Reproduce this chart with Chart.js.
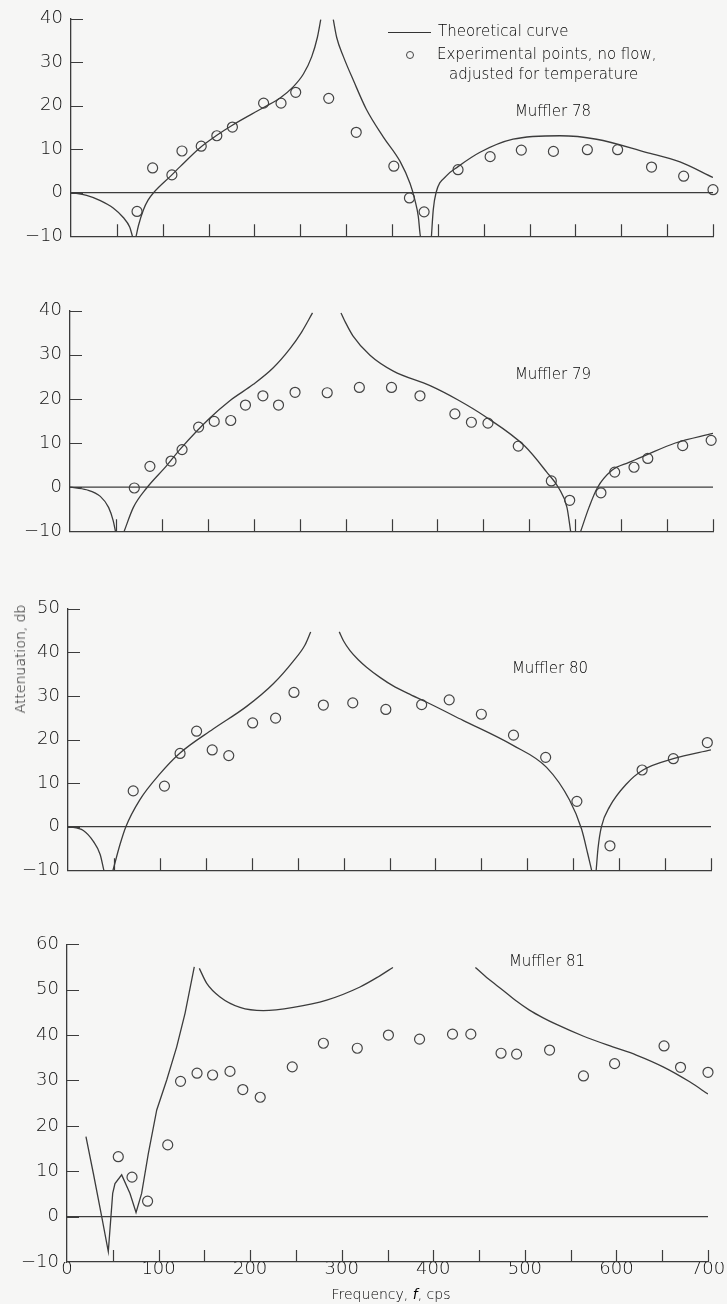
<!DOCTYPE html>
<html>
<head>
<meta charset="utf-8">
<script src="https://cdn.jsdelivr.net/npm/chart.js@4.4.1/dist/chart.umd.min.js"></script>
<style>
  body { margin: 0; background: #f6f6f5; }
  #wrap { position: relative; width: 727px; height: 1304px; overflow: hidden; font-family: 'DejaVu Sans', sans-serif; font-weight: 200; color: #000; }
  canvas { position: absolute; left: 0; }
  .txt { position: absolute; white-space: nowrap; line-height: 1; font-size: 15px; }
  .mid { transform: translateX(-50%); }
</style>
</head>
<body>
<div id="wrap">
  <canvas id="c78"></canvas>
  <canvas id="c79"></canvas>
  <canvas id="c80"></canvas>
  <canvas id="c81"></canvas>

  <div style="position:absolute;left:388px;top:32px;width:43px;border-top:1.3px solid #333"></div>
  <div class="txt" style="left:438px;top:24px">Theoretical curve</div>
  <div style="position:absolute;left:406px;top:51px;width:6px;height:6px;border:1.2px solid #444;border-radius:50%"></div>
  <div class="txt" style="left:437px;top:47px">Experimental points, no flow,</div>
  <div class="txt" style="left:449px;top:67px">adjusted for temperature</div>

  <div class="txt mid" style="left:553px;top:104px">Muffler 78</div>
  <div class="txt mid" style="left:553px;top:367px">Muffler 79</div>
  <div class="txt mid" style="left:550px;top:661px">Muffler 80</div>
  <div class="txt mid" style="left:547px;top:954px">Muffler 81</div>

  <div class="txt" style="left:20px;top:659px;font-size:14px;transform:translate(-50%,-50%) rotate(-90deg)">Attenuation, db</div>
  <div class="txt mid" style="left:391px;top:1287px;font-size:14px">Frequency, <i>f</i>, cps</div>
</div>
<script>
// experimental points (frequency, cps / attenuation, db)
var freq78 = [72, 89, 110, 121, 142, 159, 176, 210, 229, 245, 281, 311, 352, 369, 385, 422, 457, 491, 526, 563, 596, 633, 668, 700]
var att78 = [-4.3, 5.7, 4.1, 9.6, 10.7, 13.1, 15.1, 20.6, 20.6, 23.1, 21.7, 13.9, 6.1, -1.2, -4.4, 5.3, 8.3, 9.8, 9.5, 9.9, 9.9, 5.9, 3.8, 0.7]

var freq79 = [70, 87, 110, 122, 140, 157, 175, 191, 210, 227, 245, 280, 315, 350, 381, 419, 437, 455, 488, 524, 544, 578, 593, 614, 629, 667, 698]
var att79 = [-0.2, 4.7, 5.9, 8.5, 13.6, 14.9, 15.1, 18.6, 20.7, 18.6, 21.5, 21.4, 22.6, 22.6, 20.7, 16.6, 14.7, 14.5, 9.3, 1.4, -3.0, -1.3, 3.4, 4.5, 6.5, 9.4, 10.6]

var freq80 = [71, 105, 122, 140, 157, 175, 201, 226, 246, 278, 310, 346, 385, 415, 450, 485, 520, 554, 590, 625, 659, 696]
var att80 = [8.2, 9.3, 16.8, 21.9, 17.6, 16.3, 23.8, 24.9, 30.8, 27.9, 28.4, 26.9, 28.0, 29.1, 25.8, 21.0, 15.9, 5.8, -4.4, 13.0, 15.6, 19.3]

var freq81 = [56, 71, 88, 110, 124, 142, 159, 178, 192, 211, 246, 280, 317, 351, 385, 421, 441, 474, 491, 527, 564, 598, 652, 670, 700]
var att81 = [13.2, 8.7, 3.4, 15.8, 29.8, 31.6, 31.2, 32, 28, 26.3, 33, 38.2, 37.1, 40, 39.1, 40.2, 40.2, 36, 35.8, 36.7, 31, 33.7, 37.6, 32.9, 31.8]

// theoretical curves, null = break between branches
var curve78F = [0, 17, 32, 46, 57, 64, 67, 69, 71, 73.5, 79, 84, 90, 110, 119, 141, 159, 175, 210, 228, 242.5, 253.4, 262.5, 268.6, 272.3, 279, 286, 289.7, 297, 308, 322, 340.6, 358.8, 369.7, 375, 378.7, 380.6, 381, 387, 393, 395, 398, 409, 422, 446, 482, 533, 573, 627, 664, 700]
var curve78A = [0, -0.6, -1.8, -3.5, -5.7, -7.9, -10, null, -10, -7.6, -3.9, -1.7, 0, 4.1, 6, 10.4, 13.2, 15.4, 19.6, 21.8, 24.4, 27.3, 31.3, 35.7, 39.8, null, 39.8, 35.7, 31.3, 25.8, 19.2, 12.8, 7.2, 2.1, -1.7, -5.5, -9.5, -10, null, -10, -3.9, 0, 3.8, 6, 9.3, 12.3, 13.1, 12.3, 9.3, 7.1, 3.5]

var curve79F = [0, 18, 33, 42, 47, 49.5, 54, 59, 69, 83.5, 105, 120, 152, 174, 199.6, 221, 239.5, 252, 264, 280, 295, 300, 308, 326.6, 352, 392, 422, 452, 495, 519, 532, 541, 545, 550, 556, 565, 574, 590, 608.5, 626.5, 659, 700]
var curve79A = [0, -0.6, -2.1, -4.6, -7.6, -10, null, -10, -4.6, -0.2, 4.8, 8.6, 15.6, 19.6, 23.3, 27, 31.4, 35.1, 39.5, null, 39.5, 37.3, 34.3, 29.9, 26.3, 23, 19.8, 16, 9.3, 3.4, -0.2, -4.6, -10, null, -10, -4.6, -0.2, 3.8, 5.6, 7.2, 10, 12.2]

var curve80F = [0, 16.7, 27.6, 35, 39, 44, 49, 56.6, 63, 78, 100, 122, 158, 194.5, 223.5, 245.3, 258, 264.2, 280, 295.3, 300, 307, 316, 325, 340, 354, 370, 390, 430, 484, 521, 546, 559, 566, 570, 572, 575, 577, 580.6, 590, 608, 626, 659, 700]
var curve80A = [0, -0.9, -3.4, -6.4, -10, null, -10, -4.1, 0, 6.1, 12.1, 16.9, 22.4, 27.6, 32.8, 38, 41.7, 44.7, null, 44.7, 42.6, 40.4, 38.3, 36.6, 34.2, 32.3, 30.6, 28.6, 24.4, 18.7, 13.6, 6.1, -0.5, -6.4, -10, null, -10, -5, -0.1, 4.7, 9.8, 13, 15.6, 17.6]

var spike81F = [20.7, 28.8, 37.9, 45.1, 49.9, 52.4, 59.7, 68.8, 75.4, 81.5, 88.8, 98, 108.9, 119.8, 128.9, 139]
var spike81A = [17.6, 9.5, 0, -7.7, 5.1, 7.3, 9.2, 5.1, 0.9, 5.1, 13.9, 23.5, 30.1, 37.4, 44.8, 55]
var arc81F = [144.5, 152.6, 167.1, 188.9, 214.4, 247.2, 283.6, 320, 339.6, 356, 400, 446, 460, 476, 490, 505, 520, 534, 563.5, 596, 621.7, 651, 680, 700]
var arc81A = [54.7, 51.4, 48.4, 46.1, 45.4, 46.1, 47.7, 50.6, 52.8, 54.9, null, 54.9, 52.4, 49.9, 47.6, 45.5, 43.8, 42.4, 39.8, 37.4, 35.6, 33, 29.7, 27]

var zeroF = [0, 700]
var zeroA = [0, 0]

var ink = '#3c3c3c'
var font = { family: "'DejaVu Sans', sans-serif", size: 18, weight: '200' }

function pts(xs, ys) {
    return xs.map((x, i) => ({ x: x, y: ys[i] }))
}

function lineSet(xs, ys, smooth) {
    return {
        data: pts(xs, ys),
        borderColor: ink,
        borderWidth: 1.3,
        pointRadius: 0,
        fill: false,
        spanGaps: false,
        cubicInterpolationMode: smooth ? 'monotone' : 'default',
        tension: 0
    }
}

function pointSet(xs, ys) {
    return {
        data: pts(xs, ys),
        showLine: false,
        pointRadius: 5,
        pointBorderWidth: 1.2,
        pointBorderColor: '#444',
        pointBackgroundColor: 'rgba(0,0,0,0)',
        clip: false
    }
}

var inwardTicks = {
    id: 'inwardTicks',
    afterDraw(chart) {
        var ctx = chart.ctx, a = chart.chartArea, xs = chart.scales.x, ys = chart.scales.y
        ctx.save()
        ctx.strokeStyle = ink
        ctx.lineWidth = 1.2
        ctx.beginPath()
        xs.ticks.forEach(t => {
            if (t.value === xs.min) return
            var px = Math.round(xs.getPixelForValue(t.value)) + 0.5
            ctx.moveTo(px, a.bottom)
            ctx.lineTo(px, a.bottom - 12)
        })
        ys.ticks.forEach(t => {
            if (t.value === ys.min) return
            var py = Math.round(ys.getPixelForValue(t.value)) + 0.5
            ctx.moveTo(a.left, py)
            ctx.lineTo(a.left + 12, py)
        })
        ctx.stroke()
        ctx.restore()
    }
}

// canvas top/height, plot top inside the canvas, x-axis box height, pixel x of f=0 and f=700
function panel(id, top, height, padTop, xAxisH, left, right, yMax, datasets, showX) {
    var cv = document.getElementById(id)
    cv.style.top = top + 'px'
    cv.style.width = '727px'
    cv.style.height = height + 'px'
    new Chart(cv, {
        type: 'line',
        data: { datasets: datasets },
        options: {
            responsive: false,
            animation: false,
            events: [],
            layout: { padding: { top: padTop, left: 0, right: 727 - right, bottom: 0 } },
            plugins: { legend: { display: false }, tooltip: { enabled: false } },
            scales: {
                x: {
                    type: 'linear',
                    min: 0,
                    max: 700,
                    grid: { display: false, drawTicks: false },
                    border: { display: true, color: ink, width: 1.3 },
                    ticks: {
                        stepSize: 50,
                        autoSkip: false,
                        maxRotation: 0,
                        padding: -3,
                        color: '#111',
                        font: font,
                        callback: v => (showX && v % 100 === 0) ? String(v) : ''
                    },
                    afterFit: s => { s.height = xAxisH }
                },
                y: {
                    min: -10,
                    max: yMax,
                    grid: { display: false, drawTicks: false },
                    border: { display: true, color: ink, width: 1.3 },
                    ticks: {
                        stepSize: 10,
                        padding: 8,
                        color: '#111',
                        font: font,
                        callback: v => v < 0 ? '\u2212' + Math.abs(v) : String(v)
                    },
                    afterFit: s => { s.width = left }
                }
            }
        },
        plugins: [inwardTicks]
    })
}

Chart.defaults.font.family = font.family

panel('c78', 0, 255, 16, 12, 71, 713, 40, [
    lineSet(zeroF, zeroA, false),
    lineSet(curve78F, curve78A, true),
    pointSet(freq78, att78)
], false)

panel('c79', 290, 260, 20.7, 12, 70, 713, 40, [
    lineSet(zeroF, zeroA, false),
    lineSet(curve79F, curve79A, true),
    pointSet(freq79, att79)
], false)

panel('c80', 590, 299, 16, 12, 68, 711, 50, [
    lineSet(zeroF, zeroA, false),
    lineSet(curve80F, curve80A, true),
    pointSet(freq80, att80)
], false)

panel('c81', 920, 372, 24.3, 30, 67, 708, 60, [
    lineSet(zeroF, zeroA, false),
    lineSet(spike81F, spike81A, false),
    lineSet(arc81F, arc81A, true),
    pointSet(freq81, att81)
], true)
</script>
</body>
</html>
